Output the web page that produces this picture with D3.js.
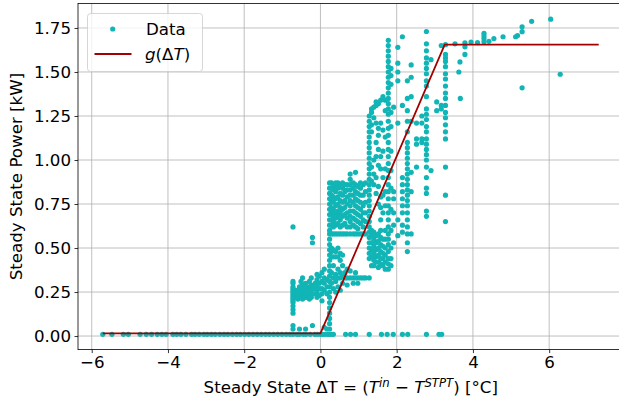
<!DOCTYPE html>
<html>
<head>
<meta charset="utf-8">
<script src="https://cdn.jsdelivr.net/npm/d3@7"></script>
<style>
  body { margin: 0; background: #fff; }
  svg text { font-family: "DejaVu Sans", sans-serif; fill: #000; }
</style>
</head>
<body>
<div id="chart"></div>
<script>
// points lying on the zero-power floor
const floorLevel = 0.01;
const floorX = [-5.71, -5.47, -5.17, -5.04, -4.73, -4.57, -4.43, -4.28, -4.16, -4.05, -3.87, -3.77,
    -3.66, -3.53, -3.38, -3.29, -3.18, -3.06, -2.97, -2.86, -2.76, -2.64, -2.53, -2.43, -2.31, -2.2,
    -2.1, -1.99, -1.88, -1.77, -1.66, -1.55, -1.44, -1.34, -1.23, -1.12, -1.01, -0.9, -0.8, -0.72,
    -0.62, -0.55, -0.45, -0.38, -0.27, -0.15, -0.08, 0.0, 0.06, 0.12, 0.19, 0.24, 0.29, 0.34,
    0.66, 0.79, 0.92, 1.28, 1.6, 1.75, 1.91, 2.15, 2.29, 2.78, 3.11, 3.18];

// vertical stacks of points: [deltaT, [power values]]
const columns = [
    [-0.72, [0.04, 0.06, 0.13, 0.15, 0.17, 0.19, 0.2, 0.21, 0.22, 0.23, 0.24, 0.25, 0.26, 0.27, 0.28, 0.3, 0.31, 0.62]],
    [-0.67, [0.22, 0.23, 0.25]],
    [-0.63, [0.22, 0.24, 0.26]],
    [-0.59, [0.21, 0.22, 0.24]],
    [-0.55, [0.22, 0.23, 0.25, 0.28, 0.04]],
    [-0.51, [0.22, 0.24, 0.27, 0.31]],
    [-0.47, [0.21, 0.23, 0.25, 0.29, 0.33]],
    [-0.43, [0.22, 0.24, 0.28]],
    [-0.39, [0.22, 0.23, 0.26, 0.3, 0.04]],
    [-0.34, [0.22, 0.25, 0.28]],
    [-0.29, [0.21, 0.23, 0.27, 0.31]],
    [-0.24, [0.22, 0.26, 0.29, 0.33]],
    [-0.21, [0.24, 0.28, 0.53, 0.56, 0.06]],
    [-0.14, [0.24, 0.27, 0.3]],
    [-0.09, [0.22, 0.25, 0.29, 0.32, 0.35]],
    [-0.03, [0.23, 0.27, 0.3, 0.34]],
    [0.04, [0.2, 0.24, 0.27, 0.31, 0.36]],
    [0.1, [0.26, 0.3, 0.33, 0.38, 0.05]],
    [0.17, [0.24, 0.28, 0.32, 0.04]],
    [0.24, [0.04, 0.07, 0.1, 0.13, 0.16, 0.19, 0.22, 0.25, 0.28, 0.31, 0.34, 0.37, 0.4, 0.43, 0.46, 0.49,
        0.52, 0.55, 0.58, 0.6, 0.63, 0.66, 0.69, 0.72, 0.75, 0.78, 0.81, 0.84, 0.87]],
    [0.29, [0.3, 0.36, 0.45, 0.48, 0.5, 0.58, 0.63, 0.66, 0.7, 0.73, 0.77, 0.8, 0.84, 0.87]],
    [0.34, [0.27, 0.33, 0.4, 0.45, 0.49, 0.58, 0.62, 0.65, 0.68, 0.72, 0.76, 0.79, 0.83, 0.86]],
    [0.4, [0.25, 0.31, 0.35, 0.45, 0.48, 0.58, 0.63, 0.67, 0.7, 0.74, 0.78, 0.82, 0.85, 0.87]],
    [0.46, [0.28, 0.33, 0.38, 0.45, 0.5, 0.58, 0.64, 0.68, 0.71, 0.75, 0.79, 0.84, 0.87]],
    [0.52, [0.26, 0.33, 0.36, 0.43, 0.47, 0.58, 0.62, 0.66, 0.7, 0.73, 0.77, 0.81, 0.85]],
    [0.58, [0.3, 0.34, 0.4, 0.46, 0.58, 0.63, 0.68, 0.72, 0.76, 0.8, 0.84, 0.87]],
    [0.64, [0.33, 0.36, 0.58, 0.64, 0.69, 0.73, 0.77, 0.82, 0.86]],
    [0.7, [0.29, 0.33, 0.38, 0.58, 0.62, 0.67, 0.7, 0.75, 0.79, 0.83, 0.86]],
    [0.78, [0.33, 0.37, 0.58, 0.62, 0.65, 0.68, 0.71, 0.74, 0.77, 0.8, 0.83, 0.86, 0.89, 0.92]],
    [0.86, [0.3, 0.33, 0.58, 0.63, 0.67, 0.71, 0.76, 0.8, 0.84, 0.87]],
    [0.92, [0.33, 0.36, 0.58, 0.62, 0.66, 0.7, 0.74, 0.78, 0.82, 0.86, 0.93]],
    [0.98, [0.3, 0.33, 0.58, 0.61, 0.65, 0.69, 0.73, 0.77, 0.81, 0.85]],
    [1.05, [0.33, 0.58, 0.64, 0.68, 0.72, 0.76, 0.8, 0.84, 0.87]],
    [1.12, [0.33, 0.58, 0.62, 0.66, 0.7, 0.74, 0.8, 0.86]],
    [1.18, [0.33, 0.58, 0.65, 0.7, 0.76, 0.82, 0.87]],
    [1.28, [0.33, 0.44, 0.47, 0.5, 0.53, 0.56, 0.59, 0.62, 0.65, 0.68, 0.71, 0.74, 0.77, 0.8, 0.83, 0.86,
        0.89, 0.92, 0.95, 0.98, 1.01, 1.04, 1.07, 1.1, 1.13, 1.16, 1.19, 1.22, 1.25]],
    [1.34, [0.4, 0.45, 0.49, 0.53, 0.57, 0.6, 0.88, 0.96, 1.16, 1.2, 1.27, 1.29]],
    [1.4, [0.4, 0.43, 0.47, 0.51, 0.55, 0.59, 0.86, 0.92, 1.0, 1.24, 1.3]],
    [1.46, [0.42, 0.45, 0.49, 0.53, 0.57, 0.81, 0.9, 1.02, 1.1, 1.21, 1.31, 1.33]],
    [1.52, [0.39, 0.42, 0.46, 0.5, 0.54, 0.58, 0.75, 0.85, 0.97, 1.06, 1.14, 1.18, 1.32]],
    [1.58, [0.41, 0.44, 0.48, 0.52, 0.56, 0.6, 0.66, 0.73, 0.79, 0.95, 1.02, 1.21, 1.34]],
    [1.64, [0.4, 0.44, 0.47, 0.51, 0.55, 0.7, 0.8, 0.9, 1.05, 1.17, 1.36]],
    [1.7, [0.38, 0.42, 0.46, 0.5, 0.55, 0.6, 0.74, 0.82, 0.95, 1.13, 1.28, 1.34]],
    [1.78, [0.38, 0.41, 0.44, 0.48, 0.52, 0.55, 0.58, 0.62, 0.66, 0.7, 0.74, 0.78, 0.82, 0.86, 0.9, 0.94,
        0.98, 1.02, 1.06, 1.1, 1.14, 1.18, 1.22, 1.26, 1.29, 1.32, 1.35, 1.38, 1.41, 1.44, 1.47, 1.5,
        1.53, 1.56, 1.59, 1.62, 1.65, 1.68]],
    [1.85, [0.4, 0.44, 0.5, 0.6, 0.72, 0.84, 0.94, 1.05, 1.19, 1.27, 1.43, 1.48, 1.52]],
    [1.92, [0.53, 0.63, 0.7, 0.78, 0.82, 1.3]],
    [2.03, [1.45, 1.5, 1.55, 1.64, 1.21, 0.57, 0.66]],
    [2.15, [0.59, 0.63, 0.7, 0.74, 0.78, 0.82, 0.86, 0.9, 1.31, 1.7]],
    [2.28, [0.48, 0.53, 0.58, 0.62, 0.66, 0.7, 0.74, 0.77, 0.8, 0.83, 0.86, 0.89, 0.92, 0.95, 0.98,
        1.01, 1.04, 1.07, 1.1, 1.16, 1.22, 1.28, 1.35, 1.45]],
    [2.38, [0.58, 0.82, 0.93, 1.22, 1.36, 1.47, 1.54]],
    [2.52, [1.21, 1.12, 1.09, 0.96]],
    [2.66, [1.25, 1.21, 1.12, 1.1]],
    [2.78, [0.68, 0.71, 0.81, 0.84, 0.9, 0.96, 1.0, 1.03, 1.06, 1.09, 1.12, 1.16, 1.19, 1.23, 1.26, 1.29,
        1.36, 1.42, 1.45, 1.49, 1.52, 1.55, 1.58, 1.62, 1.66, 1.73]],
    [2.9, [0.94, 1.57]],
    [3.05, [1.33, 1.28]],
    [3.17, [1.31, 1.29, 1.65]],
    [3.28, [0.65, 0.8, 0.96, 1.12, 1.16, 1.2, 1.24, 1.27, 1.31, 1.35, 1.38, 1.42, 1.46, 1.49, 1.53,
        1.56, 1.58, 1.6, 1.655]]
];

// scattered points beyond the saturation point
const upperX = [3.53, 3.63, 3.66, 3.67, 3.79, 3.79, 3.79, 3.95, 4.12, 4.29, 4.29, 4.29, 4.29, 4.42,
    4.55, 4.79, 5.12, 5.17, 5.29, 5.29, 5.29, 5.54, 6.04, 6.29];
const upperY = [1.66, 1.5, 1.557, 1.35, 1.666, 1.643, 1.6, 1.67, 1.667, 1.672, 1.69, 1.705, 1.72,
    1.674, 1.69, 1.70, 1.70, 1.707, 1.757, 1.729, 1.41, 1.788, 1.80, 1.487];

// fitted piecewise-linear model g(dT)
const fitX = [-5.71, 0.0, 3.26, 7.30];
const fitY = [0.015, 0.015, 1.655, 1.655];

const xTicks = [-6, -4, -2, 0, 2, 4, 6];
const yTicks = [0, 0.25, 0.5, 0.75, 1.0, 1.25, 1.5, 1.75];

const pointColor = "#12b5b5";
const lineColor = "#a30000";

const width = 619, height = 407;
const plotLeft = 78, plotRight = 623.5, plotTop = 3.5, plotBottom = 349.6;

const svg = d3.select("#chart").append("svg")
    .attr("width", width)
    .attr("height", height);

const x = d3.scaleLinear().domain([-6.36, 7.95]).range([plotLeft, plotRight]);
const y = d3.scaleLinear().domain([-0.077, 1.889]).range([plotBottom, plotTop]);

svg.append("clipPath").attr("id", "plot-clip")
    .append("rect")
    .attr("x", plotLeft).attr("y", plotTop)
    .attr("width", plotRight - plotLeft).attr("height", plotBottom - plotTop);

// grid
const grid = svg.append("g");
grid.selectAll(".gx").data(xTicks).enter().append("line")
    .attr("x1", d => x(d)).attr("x2", d => x(d))
    .attr("y1", plotTop).attr("y2", plotBottom)
    .attr("stroke", "#b0b0b0").attr("stroke-width", 0.8);
grid.selectAll(".gy").data(yTicks).enter().append("line")
    .attr("x1", plotLeft).attr("x2", plotRight)
    .attr("y1", d => y(d)).attr("y2", d => y(d))
    .attr("stroke", "#b0b0b0").attr("stroke-width", 0.8);

// build the point list
let points = floorX.map(d => ({ x: d, y: floorLevel }));
columns.forEach(c => c[1].forEach(v => points.push({ x: c[0], y: v })));
upperX.forEach((d, i) => points.push({ x: d, y: upperY[i] }));

const plot = svg.append("g").attr("clip-path", "url(#plot-clip)");

plot.selectAll(".pt")
    .data(points)
    .enter().append("circle")
    .attr("cx", d => x(d.x))
    .attr("cy", d => y(d.y))
    .attr("r", 2.6)
    .attr("fill", pointColor);

const line = d3.line().x(d => x(d[0])).y(d => y(d[1]));
plot.append("path")
    .datum(fitX.map((d, i) => [d, fitY[i]]))
    .attr("d", line)
    .attr("fill", "none")
    .attr("stroke", lineColor)
    .attr("stroke-width", 1.8);

// axes
const xAxis = svg.append("g")
    .attr("transform", "translate(0," + plotBottom + ")")
    .call(d3.axisBottom(x).tickValues(xTicks).tickSize(3.5).tickPadding(3.5)
        .tickFormat(d => d < 0 ? "\u2212" + Math.abs(d) : d));
const yAxis = svg.append("g")
    .attr("transform", "translate(" + plotLeft + ",0)")
    .call(d3.axisLeft(y).tickValues(yTicks).tickSize(3.5).tickPadding(3.5)
        .tickFormat(d3.format(".2f")));

[xAxis, yAxis].forEach(a => {
    a.select(".domain").remove();
    a.selectAll("line").attr("stroke", "#000").attr("stroke-width", 0.8);
    a.selectAll("text")
        .style("font-family", "DejaVu Sans, sans-serif")
        .style("font-size", "16.67px")
        .attr("fill", "#000");
});

// spines (top/right run past the visible area on the right)
svg.append("rect")
    .attr("x", plotLeft).attr("y", plotTop)
    .attr("width", plotRight - plotLeft).attr("height", plotBottom - plotTop)
    .attr("fill", "none").attr("stroke", "#000").attr("stroke-width", 0.8);

// axis labels
const xl = svg.append("text")
    .attr("x", (plotLeft + plotRight) / 2)
    .attr("y", 393)
    .attr("text-anchor", "middle")
    .style("font-size", "16.67px");
xl.append("tspan").text("Steady State \u0394T = (");
xl.append("tspan").attr("font-style", "italic").text("T");
xl.append("tspan").attr("font-style", "italic").attr("font-size", "11.7px").attr("dy", -6).text("in");
xl.append("tspan").attr("dy", 6).text(" \u2212 ");
xl.append("tspan").attr("font-style", "italic").text("T");
xl.append("tspan").attr("font-style", "italic").attr("font-size", "11.7px").attr("dy", -6).text("STPT");
xl.append("tspan").attr("dy", 6).text(") [\u00b0C]");

svg.append("text")
    .attr("transform", "translate(22," + ((plotTop + plotBottom) / 2) + ") rotate(-90)")
    .attr("text-anchor", "middle")
    .style("font-size", "16.67px")
    .text("Steady State Power [kW]");

// legend
const lg = svg.append("g");
lg.append("rect")
    .attr("x", 87.5).attr("y", 13.5)
    .attr("width", 115).attr("height", 58)
    .attr("rx", 3)
    .attr("fill", "#fff").attr("fill-opacity", 0.8)
    .attr("stroke", "#cccccc").attr("stroke-width", 0.8);
lg.append("circle")
    .attr("cx", 112.7).attr("cy", 29).attr("r", 2.6)
    .attr("fill", pointColor);
lg.append("text")
    .attr("x", 146).attr("y", 35)
    .style("font-size", "16.67px")
    .text("Data");
lg.append("line")
    .attr("x1", 94.5).attr("x2", 131.5)
    .attr("y1", 54).attr("y2", 54)
    .attr("stroke", lineColor).attr("stroke-width", 1.8);
const gl = lg.append("text")
    .attr("x", 145).attr("y", 60)
    .style("font-size", "16.67px");
gl.append("tspan").attr("font-style", "italic").text("g");
gl.append("tspan").text("(\u0394");
gl.append("tspan").attr("font-style", "italic").text("T");
gl.append("tspan").text(")");
</script>
</body>
</html>
